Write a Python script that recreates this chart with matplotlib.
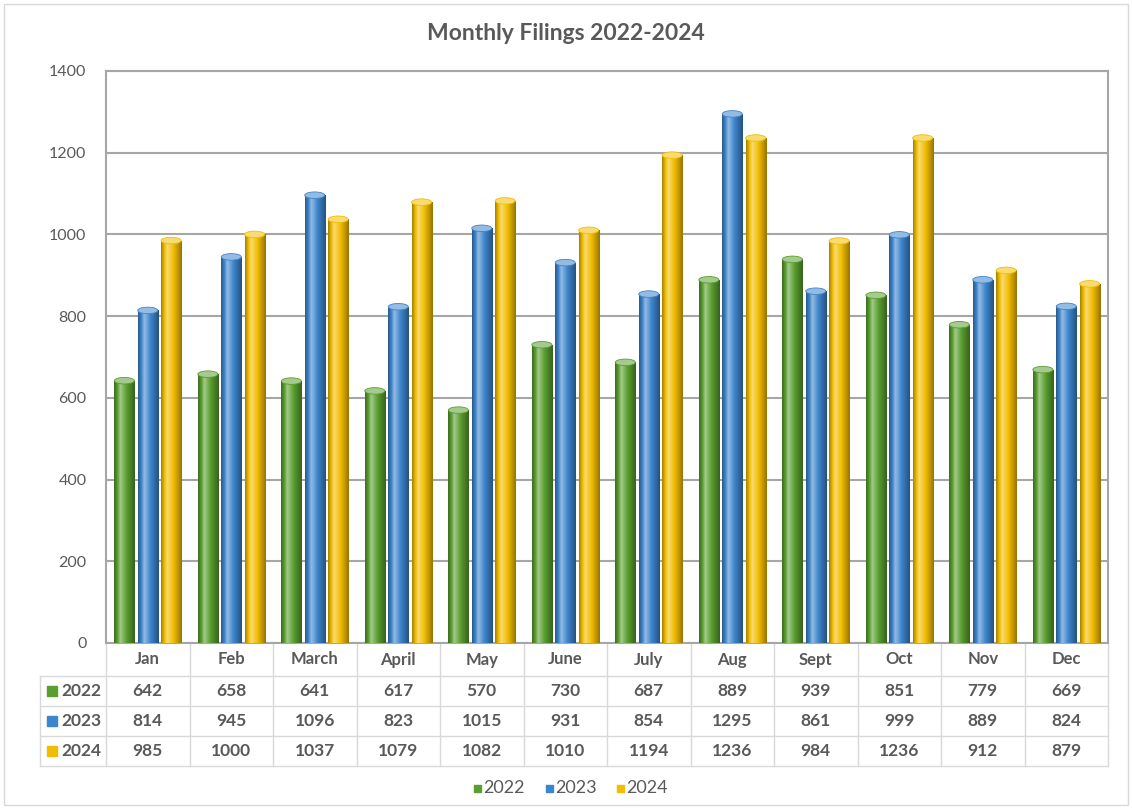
import numpy as np
import matplotlib.pyplot as plt
import matplotlib.colors as mcolors
from matplotlib.patches import Rectangle, Ellipse
from matplotlib.transforms import blended_transform_factory

plt.rcParams['font.family'] = ['Lato', 'DejaVu Sans']

# podaci
meseci = ["Jan", "Feb", "March", "April", "May", "June", "July", "Aug", "Sept", "Oct", "Nov", "Dec"]
godine = ["2022", "2023", "2024"]
v2022 = [642, 658, 641, 617, 570, 730, 687, 889, 939, 851, 779, 669]
v2023 = [814, 945, 1096, 823, 1015, 931, 854, 1295, 861, 999, 889, 824]
v2024 = [985, 1000, 1037, 1079, 1082, 1010, 1194, 1236, 984, 1236, 912, 879]
serije = [v2022, v2023, v2024]

boje = ["#5a9e2f", "#3d85cc", "#f2bd00"]
siva = "#595959"
yticks = np.arange(0, 1401, 200)

W, H = 1132, 809
fig = plt.figure(figsize=(W/100, H/100), dpi=100)
ax = fig.add_axes([106/W, 1-643/H, 1002/W, 572/H])

x = np.arange(len(meseci))
sirina = 0.24
pomak = [-0.28, 0.0, 0.28]


def nijanse(c):
    r = np.array(mcolors.to_rgb(c))
    tamno = r*0.62
    svetlo = r + (1-r)*0.45
    pos = np.linspace(0, 1, 64)
    prof = np.interp(pos, [0, 0.3, 0.6, 1], [0, 1, 0.55, -0.1])
    cols = []
    for p in prof:
        if p >= 0.55:
            t = (p-0.55)/0.45
            cols.append(r*(1-t) + svetlo*t)
        else:
            t = max(0, (0.55-p)/0.65)
            cols.append(r*(1-t) + tamno*t)
    return np.array(cols)[None, :, :], svetlo


for k in range(3):
    bars = ax.bar(x+pomak[k], serije[k], sirina, color=boje[k], zorder=3)
    grad, svetlo = nijanse(boje[k])
    for b in bars:
        x0, w, h = b.get_x(), b.get_width(), b.get_height()
        im = ax.imshow(grad, extent=(x0, x0+w, 0, h), aspect='auto', zorder=3.5,
                       interpolation='bilinear')
        im.set_clip_path(b)
        ax.add_patch(Ellipse((x0+w/2, h), w, 16, facecolor=svetlo,
                             edgecolor=mcolors.to_rgb(boje[k]), lw=0.6, zorder=4))

ax.set_xlim(-0.5, 11.5)
ax.set_ylim(0, 1400)
ax.set_yticks(yticks)
ax.set_yticklabels([str(v) for v in yticks], fontsize=11.5, color=siva)
ax.tick_params(axis='y', length=0, pad=14)
ax.set_xticks([])
ax.grid(axis='y', color="#a6a6a6", lw=1.5, zorder=0)
for s in ax.spines.values():
    s.set_color("#a6a6a6")
    s.set_linewidth(1.5)

# tabela ispod grafika
tr = blended_transform_factory(ax.transData, ax.transAxes)
px = 1/572
redovi_y = [0, -33*px, -63*px, -93*px, -123*px]
levo = -0.5 - 66/83.5
lc = "#d9d9d9"
for yy in redovi_y[1:]:
    ax.plot([levo, 11.5], [yy, yy], color=lc, lw=1, transform=tr, clip_on=False)
for i in range(13):
    ax.plot([i-0.5, i-0.5], [0, redovi_y[-1]], color=lc, lw=1, transform=tr, clip_on=False)
ax.plot([levo, levo], [redovi_y[1], redovi_y[-1]], color=lc, lw=1, transform=tr, clip_on=False)

for i, m in enumerate(meseci):
    ax.text(i, (redovi_y[0]+redovi_y[1])/2, m, transform=tr, ha='center', va='center',
            fontsize=12, fontweight='bold', color=siva)
for k in range(3):
    yc = (redovi_y[k+1]+redovi_y[k+2])/2
    ax.plot([levo+0.14], [yc], marker='s', ms=7, color=boje[k], transform=tr, clip_on=False)
    ax.text(levo+0.25, yc, godine[k], transform=tr, ha='left', va='center',
            fontsize=12.5, fontweight='bold', color=siva)
    for i in range(12):
        ax.text(i, yc, str(serije[k][i]), transform=tr, ha='center', va='center',
                fontsize=12.5, fontweight='bold', color=siva)

# legenda
lx = [477.5, 549.5, 620.5]
for k in range(3):
    fig.patches.append(Rectangle(((lx[k]-3.5)/W, 1-792/H), 7/W, 7/H, color=boje[k],
                                 transform=fig.transFigure))
    fig.text((lx[k]+6)/W, 1-788/H, godine[k], ha='left', va='center', fontsize=13, color=siva)

fig.text(0.5, 1-33/H, "Monthly Filings 2022-2024", ha='center', va='center',
         fontsize=16.5, fontweight='bold', color=siva)

fig.patches.append(Rectangle((4/W, 4/H), 1-8/W, 1-8/H, fill=False, edgecolor="#d9d9d9",
                             lw=1, transform=fig.transFigure))

fig.savefig("out.png", dpi=100)
